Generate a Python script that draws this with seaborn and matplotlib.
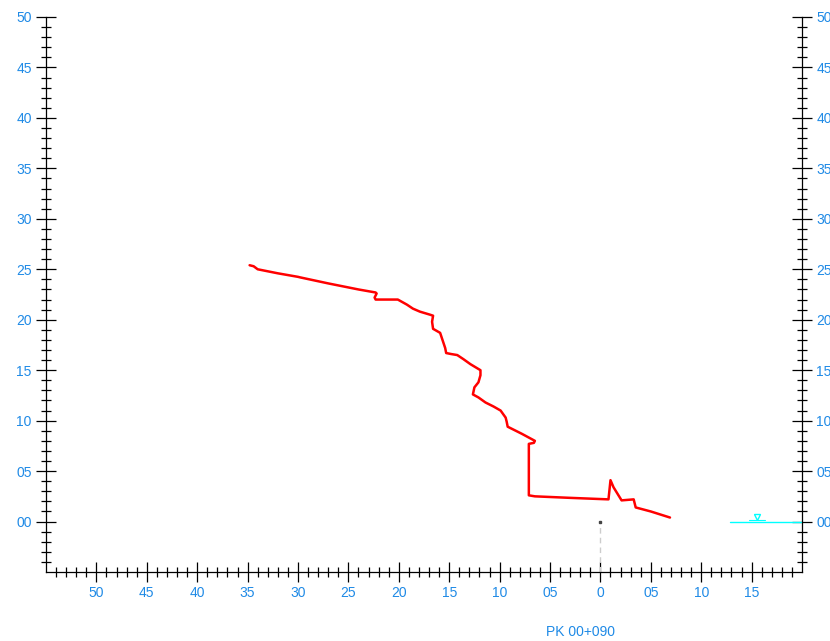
import matplotlib
matplotlib.use("Agg")
import matplotlib.pyplot as plt
import numpy as np
import pandas as pd
import seaborn as sns

# terrain profile (offset from axis, elevation)
profile_x = [-34.8, -34.4, -34.0, -32.0, -30.0, -29.8, -27.0, -24.0, -22.3, -22.2, -22.4, -22.3,
             -20.1, -19.2, -18.6, -17.9, -16.9, -16.6, -16.7, -16.6, -15.9, -15.6, -15.4, -15.3,
             -14.8, -14.2, -13.6, -12.9, -11.9, -11.9, -12.1, -12.5, -12.65, -12.1, -11.4, -10.6,
             -9.9, -9.4, -9.3, -9.2, -7.8, -6.5, -6.6, -7.1, -7.1, -7.1, -6.5, -3.0, 0.8, 1.0, 1.3,
             1.7, 2.1, 3.3, 3.5, 5.0, 6.9]
profile_y = [25.4, 25.3, 25.0, 24.6, 24.25, 24.2, 23.6, 23.0, 22.7, 22.6, 22.2, 22.0,
             22.0, 21.5, 21.1, 20.8, 20.5, 20.4, 19.8, 19.1, 18.7, 17.8, 17.2, 16.7,
             16.6, 16.5, 16.1, 15.6, 15.0, 14.5, 13.8, 13.3, 12.6, 12.3, 11.8, 11.4,
             11.0, 10.3, 9.9, 9.4, 8.7, 8.0, 7.8, 7.7, 5.0, 2.6, 2.5, 2.35, 2.2, 4.1, 3.4,
             2.75, 2.1, 2.2, 1.4, 1.0, 0.4]

x_major = list(range(-50, 16, 5))
y_major = list(range(0, 51, 5))
axis_label = "PK 00+090"
water_x = [12.9, 20.0]
water_level = 0.0
water_mark_x = 15.5

blue = "#1f8ae6"

sns.set_style("white")
plt.rcParams["font.family"] = ["Liberation Sans", "DejaVu Sans"]

fig = plt.figure(figsize=(8.3, 6.41), dpi=100)
ax = fig.add_axes([0.0554, 0.1076, 0.9663 - 0.0554, 0.9735 - 0.1076])

df = pd.DataFrame({"x": profile_x, "y": profile_y})
sns.lineplot(data=df, x="x", y="y", sort=False, estimator=None, color="red",
             linewidth=1.8, ax=ax)

# axis line at 0 down to the bottom
ax.plot([0, 0], [-5, 0], color="#cccccc", linestyle=(0, (4, 3)), linewidth=1, zorder=1)
ax.plot([0], [0], marker="s", markersize=1.5, color="#444444", zorder=2)

# water level
ax.plot(water_x, [water_level, water_level], color="cyan", linewidth=1)
ax.plot([water_mark_x], [water_level + 0.45], marker="v", markersize=5,
        markerfacecolor="none", markeredgecolor="cyan", markeredgewidth=1)
ax.plot([water_mark_x - 0.8, water_mark_x + 0.8], [water_level + 0.15] * 2, color="cyan", linewidth=0.8)
ax.plot([water_mark_x - 0.3, water_mark_x + 0.3], [water_level + 0.75] * 2, color="cyan", linewidth=0.6)

ax.set_xlim(-55, 20)
ax.set_ylim(-5, 50)
ax.set_xlabel("")
ax.set_ylabel("")

ax.set_xticks(x_major)
ax.set_xticklabels(["0" if v == 0 else f"{abs(v):02d}" for v in x_major])
ax.set_xticks([v for v in range(-54, 20) if v % 5 != 0], minor=True)
ax.set_yticks(y_major)
ax.set_yticklabels([f"{v:02d}" for v in y_major])
ax.set_yticks([v for v in range(-4, 50) if v % 5 != 0], minor=True)

ax.spines["top"].set_visible(False)
for s in ["left", "right", "bottom"]:
    ax.spines[s].set_visible(True)
    ax.spines[s].set_color("black")
    ax.spines[s].set_linewidth(0.9)

ax.tick_params(axis="both", which="major", direction="inout", length=14.4, width=0.9,
               color="black", labelcolor=blue, labelsize=10, pad=3)
ax.tick_params(axis="both", which="minor", direction="inout", length=7.2, width=0.9, color="black")
ax.tick_params(axis="y", which="both", left=True, right=True, labelleft=True, labelright=True)
ax.tick_params(axis="x", which="both", bottom=True, top=False)

fig.text(581 / 830, 1 - 632 / 641, axis_label, color=blue, fontsize=10, ha="center", va="center")

fig.savefig("out.png", dpi=100)
